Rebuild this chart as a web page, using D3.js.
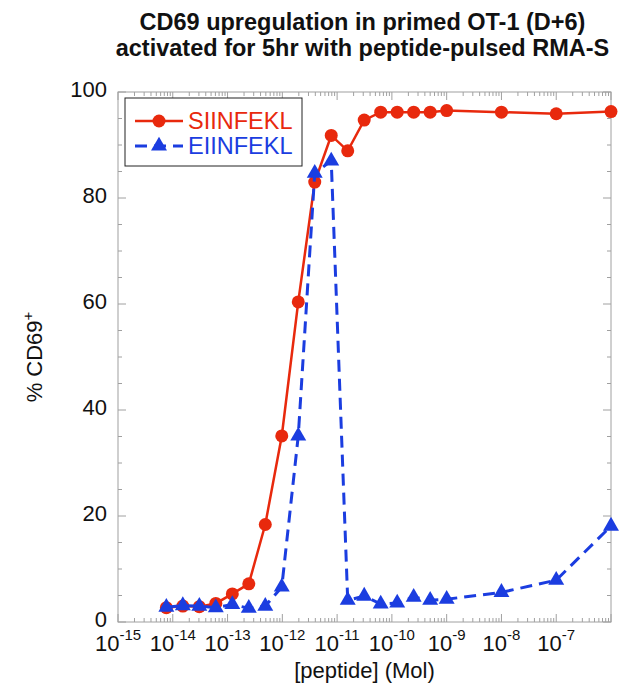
<!DOCTYPE html>
<html>
<head>
<meta charset="utf-8">
<script src="https://cdn.jsdelivr.net/npm/d3@7"></script>
<style>
  body { margin: 0; background: #fff; }
  svg text { font-family: "Liberation Sans", Arial, sans-serif; }
</style>
</head>
<body>
<div id="chart"></div>
<script>
// peptide concentrations (Mol), ascending
const conc = [7.62939453125e-15, 1.52587890625e-14, 3.0517578125e-14, 6.103515625e-14,
  1.220703125e-13, 2.44140625e-13, 4.8828125e-13, 9.765625e-13, 1.953125e-12,
  3.90625e-12, 7.8125e-12, 1.5625e-11, 3.125e-11, 6.25e-11, 1.25e-10, 2.5e-10,
  5e-10, 1e-9, 1e-8, 1e-7, 1e-6];
const siinfekl = [2.7, 3.0, 2.9, 3.5, 5.3, 7.2, 18.4, 35.1, 60.4, 83.0, 91.8, 88.9,
  94.7, 96.2, 96.2, 96.2, 96.2, 96.5, 96.2, 95.9, 96.3];
const eiinfekl = [2.8, 3.1, 3.0, 2.7, 3.3, 2.6, 3.0, 6.6, 35.1, 84.7, 87.0, 4.1,
  4.9, 3.4, 3.6, 4.7, 4.1, 4.3, 5.6, 7.9, 18.1];
const xDecades = [-15, -14, -13, -12, -11, -10, -9, -8, -7];
const yTicks = [0, 20, 40, 60, 80, 100];

const W = 619, H = 688;
const mLeft = 118, mRight = 611, mTop = 92, mBottom = 622;
const red = "#e8290d", blue = "#1b3de0", axisCol = "#a0a0a0";

const svg = d3.select("#chart").append("svg")
  .attr("width", W).attr("height", H);

const x = d3.scaleLog().domain([1e-15, 1e-6]).range([mLeft, mRight]);
const y = d3.scaleLinear().domain([0, 100]).range([mBottom, mTop]);

// minor/major tick values
const majorX = d3.range(-15, -5).map(e => Math.pow(10, e));
const minorX = [];
majorX.slice(0, -1).forEach(m => { for (let k = 2; k <= 9; k++) minorX.push(m * k); });
const minorY = d3.range(0, 101, 5).filter(v => v % 20 !== 0);

const ax = svg.append("g").attr("stroke", axisCol).attr("stroke-width", 1);
ax.append("rect").attr("x", mLeft).attr("y", mTop)
  .attr("width", mRight - mLeft).attr("height", mBottom - mTop).attr("fill", "none");

function xt(vals, len) {
  vals.forEach(v => {
    ax.append("line").attr("x1", x(v)).attr("x2", x(v)).attr("y1", mBottom).attr("y2", mBottom - len);
    ax.append("line").attr("x1", x(v)).attr("x2", x(v)).attr("y1", mTop).attr("y2", mTop + len);
  });
}
function yt(vals, len) {
  vals.forEach(v => {
    ax.append("line").attr("y1", y(v)).attr("y2", y(v)).attr("x1", mLeft).attr("x2", mLeft + len);
    ax.append("line").attr("y1", y(v)).attr("y2", y(v)).attr("x1", mRight).attr("x2", mRight - len);
  });
}
xt(majorX, 8); xt(minorX, 4);
yt(yTicks, 8); yt(minorY, 4);

// x tick labels
xDecades.forEach(e => {
  const t = svg.append("text")
    .attr("x", x(Math.pow(10, e))).attr("y", mBottom + 29)
    .attr("text-anchor", "middle").attr("font-size", 22).attr("fill", "#111");
  t.append("tspan").text("10");
  t.append("tspan").attr("dy", -11).attr("font-size", 15).text(String(e));
});

// y tick labels
yTicks.forEach(v => {
  svg.append("text").attr("x", mLeft - 11).attr("y", y(v)).attr("dy", "0.24em")
    .attr("text-anchor", "end").attr("font-size", 22).attr("fill", "#111").text(v);
});

// axis titles
svg.append("text").attr("x", (mLeft + mRight) / 2).attr("y", 678)
  .attr("text-anchor", "middle").attr("font-size", 22).attr("fill", "#111")
  .text("[peptide] (Mol)");
const yl = svg.append("text")
  .attr("transform", `translate(42,${(mTop + mBottom) / 2}) rotate(-90)`)
  .attr("text-anchor", "middle").attr("font-size", 22).attr("fill", "#111");
yl.append("tspan").text("% CD69");
yl.append("tspan").attr("dy", -9).attr("font-size", 15).text("+");

// title
const title = ["CD69 upregulation in primed OT-1 (D+6)",
  "activated for 5hr with peptide-pulsed RMA-S"];
title.forEach((s, i) => {
  svg.append("text").attr("x", (mLeft + mRight) / 2 - 2).attr("y", 30 + i * 26)
    .attr("text-anchor", "middle").attr("font-size", 23.5).attr("font-weight", "bold")
    .attr("fill", "#111").text(s);
});

// series
const line = d3.line().x(d => x(d[0])).y(d => y(d[1]));
const sData = conc.map((c, i) => [c, siinfekl[i]]);
const eData = conc.map((c, i) => [c, eiinfekl[i]]);
const tri = d3.symbol().type(d3.symbolTriangle).size(110);

svg.append("path").datum(sData).attr("d", line)
  .attr("fill", "none").attr("stroke", red).attr("stroke-width", 2.5);
svg.append("g").selectAll("circle").data(sData).join("circle")
  .attr("cx", d => x(d[0])).attr("cy", d => y(d[1])).attr("r", 6.5).attr("fill", red);

svg.append("path").datum(eData).attr("d", line)
  .attr("fill", "none").attr("stroke", blue).attr("stroke-width", 3)
  .attr("stroke-dasharray", "12,7");
svg.append("g").selectAll("path").data(eData).join("path")
  .attr("d", tri)
  .attr("transform", d => `translate(${x(d[0])},${y(d[1])})`).attr("fill", blue);

// legend
const lg = svg.append("g");
lg.append("rect").attr("x", 125).attr("y", 98).attr("width", 177).attr("height", 68)
  .attr("fill", "#fff").attr("stroke", "#222").attr("stroke-width", 1);
lg.append("line").attr("x1", 135).attr("x2", 183).attr("y1", 121).attr("y2", 121)
  .attr("stroke", red).attr("stroke-width", 2.5);
lg.append("circle").attr("cx", 159).attr("cy", 121).attr("r", 6.5).attr("fill", red);
lg.append("line").attr("x1", 135).attr("x2", 183).attr("y1", 146).attr("y2", 146)
  .attr("stroke", blue).attr("stroke-width", 3).attr("stroke-dasharray", "12,7");
lg.append("path").attr("d", tri).attr("transform", "translate(159,146)").attr("fill", blue);
lg.append("text").attr("x", 188).attr("y", 121).attr("dy", "0.36em")
  .attr("font-size", 23.5).attr("fill", red).text("SIINFEKL");
lg.append("text").attr("x", 188).attr("y", 146).attr("dy", "0.36em")
  .attr("font-size", 23.5).attr("fill", blue).text("EIINFEKL");
</script>
</body>
</html>
